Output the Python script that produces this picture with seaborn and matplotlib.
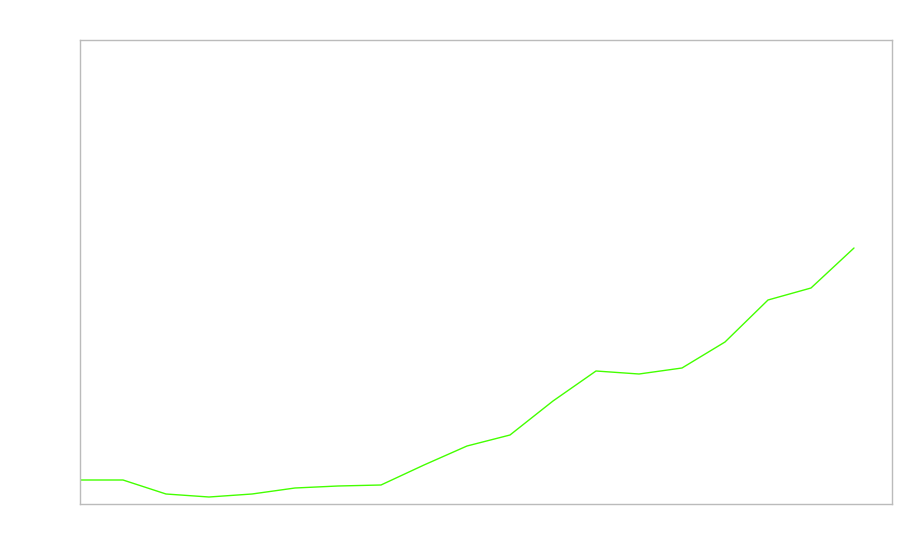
import seaborn as sns
import matplotlib.pyplot as plt
import pandas as pd

# data (arbitrary units, axis has no labels)
steps = list(range(19))
values = [24, 24, 10, 7, 10, 16, 18, 19, 39, 58, 69, 103, 133, 130, 136, 162, 204, 216, 256]

df = pd.DataFrame({"step": steps, "value": values})

sns.set_style("white")
fig = plt.figure(figsize=(9, 5.6), dpi=100)
ax = fig.add_axes([80 / 900, 56 / 560, 812 / 900, 464 / 560])

sns.lineplot(data=df, x="step", y="value", ax=ax, color="#44ff00", linewidth=1)

ax.set_xlim(0, 812 / 43)
ax.set_ylim(0, 464)
ax.set_xticks([])
ax.set_yticks([])
ax.set_xlabel("")
ax.set_ylabel("")
for s in ax.spines.values():
    s.set_color("#bbbbbb")
    s.set_linewidth(1)

fig.savefig("out.png", dpi=100)
